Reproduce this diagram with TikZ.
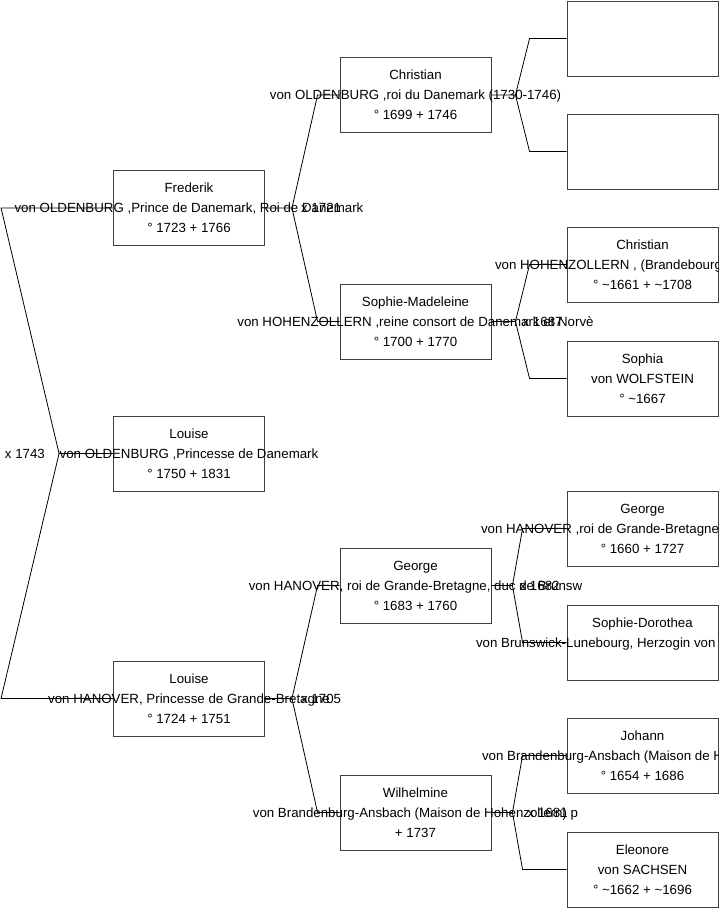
\documentclass[tikz,border=0pt]{standalone}
\usepackage{fontspec}
\setmainfont{Liberation Sans}
\usetikzlibrary{positioning}
\tikzset{
  pbox/.style = {draw=black!75, line width=0.9pt, minimum width=151pt,
                 minimum height=75pt, inner sep=0pt, align=center,
                 font=\fontsize{13.3}{20}\selectfont},
  link/.style = {-, line width=0.8pt, black},
  wed/.style  = {inner sep=0pt, font=\fontsize{13.3}{16}\selectfont},
}
\newcommand{\wide}[1]{\makebox[0pt]{#1}}
\newcommand{\cutoff}[2]{\makebox[0pt][l]{\hspace*{-#1pt}#2}}

\begin{document}
\begin{tikzpicture}[x=1pt, y=1pt]
    \useasboundingbox (0,0) rectangle (719,-908);
    \clip (0,0) rectangle (719,-908);

    % first column
    \node[pbox] (frederik) at (189,-208)   {Frederik\\\wide{von OLDENBURG ,Prince de Danemark, Roi de Danemark}\\° 1723 + 1766};
    \node[pbox] (louise)   at (189,-453.5) {Louise\\\wide{von OLDENBURG ,Princesse de Danemark}\\° 1750 + 1831};
    \node[pbox] (louiseh)  at (189,-698.5) {Louise\\\wide{von HANOVER, Princesse de Grande-Bretagne}\\° 1724 + 1751};

    % second column
    \node[pbox] (christian) at (415.5,-95)    {Christian\\\wide{von OLDENBURG ,roi du Danemark (1730-1746)}\\° 1699 + 1746};
    \node[pbox] (sophiem)   at (415.5,-321.5) {Sophie-Madeleine\\\wide{von HOHENZOLLERN ,reine consort de Danemark et Norvè}\\° 1700 + 1770};
    \node[pbox] (george)    at (415.5,-585.5) {George\\\wide{von HANOVER, roi de Grande-Bretagne, duc de Brunsw}\\° 1683 + 1760};
    \node[pbox] (wilh)      at (415.5,-812.5) {Wilhelmine\\\wide{von Brandenburg-Ansbach (Maison de Hohenzollern) p}\\+ 1737};

    % third column
    \node[pbox] (chrf)     at (642.5,-38.5)  {};
    \node[pbox] (chrm)     at (642.5,-151.5) {};
    \node[pbox] (chrhz)    at (642.5,-264.5) {Christian\\\cutoff{147.5}{von HOHENZOLLERN , (Brandebourg}\\° \textasciitilde1661 + \textasciitilde1708};
    \node[pbox] (sophia)   at (642.5,-378.5) {Sophia\\von WOLFSTEIN\\° \textasciitilde1667};
    \node[pbox] (georgei)  at (642.5,-528.5) {George\\\cutoff{161.5}{von HANOVER ,roi de Grande-Bretagne}\\° 1660 + 1727};
    \node[pbox] (sophied)  at (642.5,-642.5) {Sophie-Dorothea\\\cutoff{166.5}{von Brunswick-Lunebourg, Herzogin von}\\\mbox{}};
    \node[pbox] (johann)   at (642.5,-755.5) {Johann\\\cutoff{160.5}{von Brandenburg-Ansbach (Maison de H}\\° 1654 + 1686};
    \node[pbox] (eleonore) at (642.5,-869.5) {Eleonore\\von SACHSEN\\° \textasciitilde1662 + \textasciitilde1696};

    % forks
    \coordinate (xroot) at ([xshift=-54pt]louise.west);
    \coordinate (xfr)   at ([xshift=27pt]frederik.east);
    \coordinate (xlh)   at ([xshift=27pt]louiseh.east);
    \coordinate (xchr)  at ([xshift=24pt]christian.east);
    \coordinate (xsm)   at ([xshift=24pt]sophiem.east);
    \coordinate (xge)   at ([xshift=21pt]george.east);
    \coordinate (xwi)   at ([xshift=21pt]wilh.east);

    \draw[link] (louise.west) -- (xroot) -- ([xshift=-112pt]frederik.west) -- (frederik.west);
    \draw[link] (xroot) -- ([xshift=-112pt]louiseh.west) -- (louiseh.west);

    \draw[link] (frederik.east) -- (xfr) -- ([xshift=-22pt]christian.west) -- (christian.west);
    \draw[link] (xfr) -- ([xshift=-22pt]sophiem.west) -- (sophiem.west);
    \draw[link] (louiseh.east) -- (xlh) -- ([xshift=-22pt]george.west) -- (george.west);
    \draw[link] (xlh) -- ([xshift=-22pt]wilh.west) -- (wilh.west);

    \draw[link] (christian.east) -- (xchr) -- ([xshift=-37pt]chrf.west) -- (chrf.west);
    \draw[link] (xchr) -- ([xshift=-37pt]chrm.west) -- (chrm.west);
    \draw[link] (sophiem.east) -- (xsm) -- ([xshift=-37pt]chrhz.west) -- (chrhz.west);
    \draw[link] (xsm) -- ([xshift=-37pt]sophia.west) -- (sophia.west);
    \draw[link] (george.east) -- (xge) -- ([xshift=-44pt]georgei.west) -- (georgei.west);
    \draw[link] (xge) -- ([xshift=-44pt]sophied.west) -- (sophied.west);
    \draw[link] (wilh.east) -- (xwi) -- ([xshift=-44pt]johann.west) -- (johann.west);
    \draw[link] (xwi) -- ([xshift=-44pt]eleonore.west) -- (eleonore.west);

    % marriages
    \node[wed, left=14pt of xroot] (w1743) {x 1743};
    \node[wed, right=9pt of xfr]   (w1721) {x 1721};
    \node[wed, right=9pt of xlh]   (w1705) {x 1705};
    \node[wed, right=7pt of xsm]   (w1687) {x 1687};
    \node[wed, right=7pt of xge]   (w1682) {x 1682};
    \node[wed, right=15pt of xwi]  (w1681) {x 1681};
\end{tikzpicture}
\end{document}
